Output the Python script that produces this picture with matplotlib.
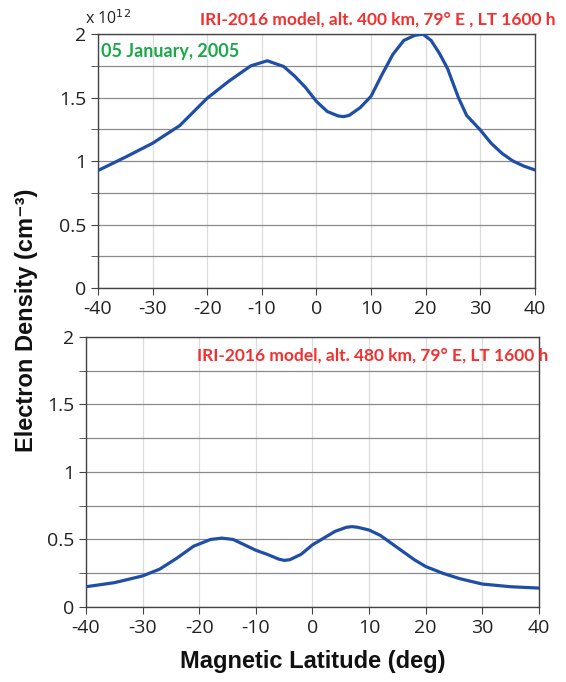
import numpy as np
import matplotlib.pyplot as plt

# magnetic latitude (deg) and electron density (x 1e12 cm^-3)
lat_400 = [-40, -35, -30, -25, -20, -16, -12, -9, -6, -4, -2, 0, 2, 4, 5, 6, 8, 10,
           12, 14, 16, 18, 19.5, 21, 22.5, 24, 26, 27.5, 30, 32, 34, 36, 38, 40]
ne_400 = [0.925, 1.03, 1.14, 1.28, 1.495, 1.63, 1.75, 1.79, 1.745, 1.67, 1.58, 1.47, 1.39, 1.355, 1.35,
          1.36, 1.42, 1.51, 1.68, 1.84, 1.95, 1.99, 2.0, 1.95, 1.85, 1.73, 1.50, 1.36, 1.245, 1.14,
          1.06, 1.0, 0.96, 0.93]

lat_480 = [-40, -35, -30, -27, -24, -21, -18, -16, -14, -12, -10, -8, -6, -5, -4, -2, 0, 2, 4, 6, 7,
           8, 10, 12, 15, 18, 20, 23, 26, 30, 35, 40]
ne_480 = [0.15, 0.18, 0.23, 0.28, 0.36, 0.45, 0.50, 0.51, 0.50, 0.46, 0.42, 0.39, 0.355, 0.345, 0.35, 0.39,
          0.46, 0.51, 0.56, 0.59, 0.595, 0.59, 0.57, 0.53, 0.44, 0.35, 0.30, 0.25, 0.21, 0.17, 0.15, 0.14]

xticks = [-40, -30, -20, -10, 0, 10, 20, 30, 40]
yticks = [0, 0.5, 1, 1.5, 2]
yminor = [0.25, 0.75, 1.25, 1.75]

blue = "#1f4ea6"
red = "#f23030"
tick_font = "Open Sans"

fig = plt.figure(figsize=(5.66, 6.82), dpi=100)
ax1 = fig.add_axes([0.173, 0.5777, 0.772, 0.3723])
ax2 = fig.add_axes([0.152, 0.110, 0.800, 0.396])

for ax, x, y in [(ax1, lat_400, ne_400), (ax2, lat_480, ne_480)]:
    ax.plot(x, y, color=blue, lw=2.3, solid_capstyle="round", solid_joinstyle="round", zorder=3)
    ax.set_xlim(-40, 40)
    ax.set_ylim(0, 2)
    ax.set_xticks(xticks)
    ax.set_yticks(yticks)
    ax.set_yticks(yminor, minor=True)
    ax.grid(axis="x", color="#dcdcdc", lw=0.9)
    ax.grid(axis="y", which="both", color="#8a8a8a", lw=0.9)
    ax.set_axisbelow(True)
    for s in ax.spines.values():
        s.set_color("#444444")
        s.set_linewidth(1.0)
    ax.tick_params(axis="both", which="both", direction="out", length=5, color="#444444",
                   labelsize=14, labelcolor="#222222")
    ax.set_xticklabels([str(t) for t in xticks])
    ax.set_yticklabels(["0", "0.5", "1", "1.5", "2"])
    for lab in ax.get_xticklabels() + ax.get_yticklabels():
        lab.set_fontfamily(tick_font)

fig.text(0.150, 0.965, r"x 10$^{12}$", fontsize=11.5, family=tick_font, color="#222222")

fig.text(0.353, 0.972, "IRI-2016 model, alt. 400 km, 79° E , LT 1600 h", fontsize=12.5,
         fontweight="bold", color=red, family="Lato", va="center")
ax1.text(0.008, 0.93, "05 January, 2005", transform=ax1.transAxes, fontsize=13,
         fontweight="bold", color="#1aa84a", family="Lato", va="center")
fig.text(0.348, 0.478, "IRI-2016 model, alt. 480 km, 79° E, LT 1600 h", fontsize=12.5,
         fontweight="bold", color=red, family="Lato", va="center")

fig.text(0.046, 0.53, "Electron Density (cm⁻³)", rotation=90, ha="center", va="center",
         fontsize=17, fontweight="bold", family=["Liberation Sans", "DejaVu Sans"], color="#111111")
fig.text(0.552, 0.030, "Magnetic Latitude (deg)", ha="center", va="center",
         fontsize=17, fontweight="bold", family="Liberation Sans", color="#111111")

fig.savefig("out.png", dpi=100)
